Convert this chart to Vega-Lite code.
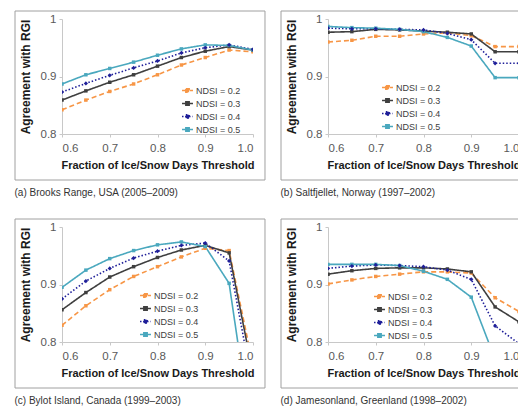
{
  "$schema": "https://vega.github.io/schema/vega-lite/v6.json",
  "padding": {"left": 14, "top": 10, "right": 0, "bottom": 0},
  "background": "white",
  "datasets": {
    "frame": [{"x0": 0.5016, "x1": 1.0251, "y0": 0.72, "y1": 1.0139}],
    "pts": [
      {"p":"a","n":"NDSI = 0.2","t":0.6,"v":0.842},{"p":"a","n":"NDSI = 0.2","t":0.65,"v":0.859},{"p":"a","n":"NDSI = 0.2","t":0.7,"v":0.874},{"p":"a","n":"NDSI = 0.2","t":0.75,"v":0.887},{"p":"a","n":"NDSI = 0.2","t":0.8,"v":0.903},{"p":"a","n":"NDSI = 0.2","t":0.85,"v":0.920},{"p":"a","n":"NDSI = 0.2","t":0.9,"v":0.933},{"p":"a","n":"NDSI = 0.2","t":0.95,"v":0.946},{"p":"a","n":"NDSI = 0.2","t":1.0,"v":0.943},
      {"p":"a","n":"NDSI = 0.3","t":0.6,"v":0.859},{"p":"a","n":"NDSI = 0.3","t":0.65,"v":0.875},{"p":"a","n":"NDSI = 0.3","t":0.7,"v":0.890},{"p":"a","n":"NDSI = 0.3","t":0.75,"v":0.903},{"p":"a","n":"NDSI = 0.3","t":0.8,"v":0.918},{"p":"a","n":"NDSI = 0.3","t":0.85,"v":0.933},{"p":"a","n":"NDSI = 0.3","t":0.9,"v":0.944},{"p":"a","n":"NDSI = 0.3","t":0.95,"v":0.952},{"p":"a","n":"NDSI = 0.3","t":1.0,"v":0.946},
      {"p":"a","n":"NDSI = 0.4","t":0.6,"v":0.873},{"p":"a","n":"NDSI = 0.4","t":0.65,"v":0.888},{"p":"a","n":"NDSI = 0.4","t":0.7,"v":0.902},{"p":"a","n":"NDSI = 0.4","t":0.75,"v":0.915},{"p":"a","n":"NDSI = 0.4","t":0.8,"v":0.927},{"p":"a","n":"NDSI = 0.4","t":0.85,"v":0.941},{"p":"a","n":"NDSI = 0.4","t":0.9,"v":0.950},{"p":"a","n":"NDSI = 0.4","t":0.95,"v":0.955},{"p":"a","n":"NDSI = 0.4","t":1.0,"v":0.947},
      {"p":"a","n":"NDSI = 0.5","t":0.6,"v":0.887},{"p":"a","n":"NDSI = 0.5","t":0.65,"v":0.903},{"p":"a","n":"NDSI = 0.5","t":0.7,"v":0.914},{"p":"a","n":"NDSI = 0.5","t":0.75,"v":0.925},{"p":"a","n":"NDSI = 0.5","t":0.8,"v":0.937},{"p":"a","n":"NDSI = 0.5","t":0.85,"v":0.948},{"p":"a","n":"NDSI = 0.5","t":0.9,"v":0.955},{"p":"a","n":"NDSI = 0.5","t":0.95,"v":0.954},{"p":"a","n":"NDSI = 0.5","t":1.0,"v":0.946},
      {"p":"b","n":"NDSI = 0.2","t":0.6,"v":0.960},{"p":"b","n":"NDSI = 0.2","t":0.65,"v":0.963},{"p":"b","n":"NDSI = 0.2","t":0.7,"v":0.970},{"p":"b","n":"NDSI = 0.2","t":0.75,"v":0.970},{"p":"b","n":"NDSI = 0.2","t":0.8,"v":0.974},{"p":"b","n":"NDSI = 0.2","t":0.85,"v":0.976},{"p":"b","n":"NDSI = 0.2","t":0.9,"v":0.971},{"p":"b","n":"NDSI = 0.2","t":0.95,"v":0.952},{"p":"b","n":"NDSI = 0.2","t":1.0,"v":0.952},
      {"p":"b","n":"NDSI = 0.3","t":0.6,"v":0.977},{"p":"b","n":"NDSI = 0.3","t":0.65,"v":0.978},{"p":"b","n":"NDSI = 0.3","t":0.7,"v":0.982},{"p":"b","n":"NDSI = 0.3","t":0.75,"v":0.981},{"p":"b","n":"NDSI = 0.3","t":0.8,"v":0.979},{"p":"b","n":"NDSI = 0.3","t":0.85,"v":0.977},{"p":"b","n":"NDSI = 0.3","t":0.9,"v":0.974},{"p":"b","n":"NDSI = 0.3","t":0.95,"v":0.943},{"p":"b","n":"NDSI = 0.3","t":1.0,"v":0.943},
      {"p":"b","n":"NDSI = 0.4","t":0.6,"v":0.984},{"p":"b","n":"NDSI = 0.4","t":0.65,"v":0.983},{"p":"b","n":"NDSI = 0.4","t":0.7,"v":0.983},{"p":"b","n":"NDSI = 0.4","t":0.75,"v":0.982},{"p":"b","n":"NDSI = 0.4","t":0.8,"v":0.981},{"p":"b","n":"NDSI = 0.4","t":0.85,"v":0.975},{"p":"b","n":"NDSI = 0.4","t":0.9,"v":0.964},{"p":"b","n":"NDSI = 0.4","t":0.95,"v":0.923},{"p":"b","n":"NDSI = 0.4","t":1.0,"v":0.923},
      {"p":"b","n":"NDSI = 0.5","t":0.6,"v":0.987},{"p":"b","n":"NDSI = 0.5","t":0.65,"v":0.985},{"p":"b","n":"NDSI = 0.5","t":0.7,"v":0.984},{"p":"b","n":"NDSI = 0.5","t":0.75,"v":0.982},{"p":"b","n":"NDSI = 0.5","t":0.8,"v":0.978},{"p":"b","n":"NDSI = 0.5","t":0.85,"v":0.968},{"p":"b","n":"NDSI = 0.5","t":0.9,"v":0.953},{"p":"b","n":"NDSI = 0.5","t":0.95,"v":0.898},{"p":"b","n":"NDSI = 0.5","t":1.0,"v":0.898},
      {"p":"c","n":"NDSI = 0.2","t":0.6,"v":0.829},{"p":"c","n":"NDSI = 0.2","t":0.65,"v":0.863},{"p":"c","n":"NDSI = 0.2","t":0.7,"v":0.891},{"p":"c","n":"NDSI = 0.2","t":0.75,"v":0.914},{"p":"c","n":"NDSI = 0.2","t":0.8,"v":0.931},{"p":"c","n":"NDSI = 0.2","t":0.85,"v":0.948},{"p":"c","n":"NDSI = 0.2","t":0.9,"v":0.963},{"p":"c","n":"NDSI = 0.2","t":0.95,"v":0.959},{"p":"c","n":"NDSI = 0.2","t":1.0,"v":0.76},
      {"p":"c","n":"NDSI = 0.3","t":0.6,"v":0.856},{"p":"c","n":"NDSI = 0.3","t":0.65,"v":0.886},{"p":"c","n":"NDSI = 0.3","t":0.7,"v":0.913},{"p":"c","n":"NDSI = 0.3","t":0.75,"v":0.931},{"p":"c","n":"NDSI = 0.3","t":0.8,"v":0.947},{"p":"c","n":"NDSI = 0.3","t":0.85,"v":0.960},{"p":"c","n":"NDSI = 0.3","t":0.9,"v":0.968},{"p":"c","n":"NDSI = 0.3","t":0.95,"v":0.955},{"p":"c","n":"NDSI = 0.3","t":1.0,"v":0.745},
      {"p":"c","n":"NDSI = 0.4","t":0.6,"v":0.875},{"p":"c","n":"NDSI = 0.4","t":0.65,"v":0.906},{"p":"c","n":"NDSI = 0.4","t":0.7,"v":0.928},{"p":"c","n":"NDSI = 0.4","t":0.75,"v":0.946},{"p":"c","n":"NDSI = 0.4","t":0.8,"v":0.958},{"p":"c","n":"NDSI = 0.4","t":0.85,"v":0.968},{"p":"c","n":"NDSI = 0.4","t":0.9,"v":0.972},{"p":"c","n":"NDSI = 0.4","t":0.95,"v":0.941},{"p":"c","n":"NDSI = 0.4","t":1.0,"v":0.72},
      {"p":"c","n":"NDSI = 0.5","t":0.6,"v":0.895},{"p":"c","n":"NDSI = 0.5","t":0.65,"v":0.925},{"p":"c","n":"NDSI = 0.5","t":0.7,"v":0.945},{"p":"c","n":"NDSI = 0.5","t":0.75,"v":0.959},{"p":"c","n":"NDSI = 0.5","t":0.8,"v":0.969},{"p":"c","n":"NDSI = 0.5","t":0.85,"v":0.974},{"p":"c","n":"NDSI = 0.5","t":0.9,"v":0.966},{"p":"c","n":"NDSI = 0.5","t":0.95,"v":0.902},{"p":"c","n":"NDSI = 0.5","t":1.0,"v":0.62},
      {"p":"d","n":"NDSI = 0.2","t":0.6,"v":0.901},{"p":"d","n":"NDSI = 0.2","t":0.65,"v":0.908},{"p":"d","n":"NDSI = 0.2","t":0.7,"v":0.914},{"p":"d","n":"NDSI = 0.2","t":0.75,"v":0.918},{"p":"d","n":"NDSI = 0.2","t":0.8,"v":0.922},{"p":"d","n":"NDSI = 0.2","t":0.85,"v":0.922},{"p":"d","n":"NDSI = 0.2","t":0.9,"v":0.920},{"p":"d","n":"NDSI = 0.2","t":0.95,"v":0.877},{"p":"d","n":"NDSI = 0.2","t":1.0,"v":0.853},
      {"p":"d","n":"NDSI = 0.3","t":0.6,"v":0.918},{"p":"d","n":"NDSI = 0.3","t":0.65,"v":0.924},{"p":"d","n":"NDSI = 0.3","t":0.7,"v":0.928},{"p":"d","n":"NDSI = 0.3","t":0.75,"v":0.929},{"p":"d","n":"NDSI = 0.3","t":0.8,"v":0.929},{"p":"d","n":"NDSI = 0.3","t":0.85,"v":0.927},{"p":"d","n":"NDSI = 0.3","t":0.9,"v":0.922},{"p":"d","n":"NDSI = 0.3","t":0.95,"v":0.861},{"p":"d","n":"NDSI = 0.3","t":1.0,"v":0.835},
      {"p":"d","n":"NDSI = 0.4","t":0.6,"v":0.928},{"p":"d","n":"NDSI = 0.4","t":0.65,"v":0.932},{"p":"d","n":"NDSI = 0.4","t":0.7,"v":0.934},{"p":"d","n":"NDSI = 0.4","t":0.75,"v":0.933},{"p":"d","n":"NDSI = 0.4","t":0.8,"v":0.931},{"p":"d","n":"NDSI = 0.4","t":0.85,"v":0.925},{"p":"d","n":"NDSI = 0.4","t":0.9,"v":0.909},{"p":"d","n":"NDSI = 0.4","t":0.95,"v":0.828},{"p":"d","n":"NDSI = 0.4","t":1.0,"v":0.797},
      {"p":"d","n":"NDSI = 0.5","t":0.6,"v":0.935},{"p":"d","n":"NDSI = 0.5","t":0.65,"v":0.935},{"p":"d","n":"NDSI = 0.5","t":0.7,"v":0.935},{"p":"d","n":"NDSI = 0.5","t":0.75,"v":0.933},{"p":"d","n":"NDSI = 0.5","t":0.8,"v":0.923},{"p":"d","n":"NDSI = 0.5","t":0.85,"v":0.909},{"p":"d","n":"NDSI = 0.5","t":0.9,"v":0.878},{"p":"d","n":"NDSI = 0.5","t":0.95,"v":0.77},{"p":"d","n":"NDSI = 0.5","t":1.0,"v":0.70}
    ]
  },
  "vconcat": [
    {
      "hconcat": [
        {
          "width": 191, "height": 115,
          "title": {"text": "(a) Brooks Range, USA (2005–2009)"},
          "layer": [
            {"data": {"name": "frame"}, "mark": {"type": "rect", "fill": null, "stroke": "#a0a0a0", "strokeWidth": 1}, "encoding": {"x": {"field": "x0", "type": "quantitative", "title": "Fraction of Ice/Snow Days Threshold", "scale": {"domain": [0.6, 1.0], "nice": false, "zero": false}}, "x2": {"field": "x1"}, "y": {"field": "y0", "type": "quantitative", "title": "Agreement with RGI", "scale": {"domain": [0.8, 1.0], "nice": false, "zero": false}}, "y2": {"field": "y1"}}},
            {"data": {"name": "pts"}, "transform": [{"filter": "datum.p == 'a'"}], "mark": {"type": "line", "clip": true, "strokeWidth": 1.6},
             "encoding": {"x": {"field": "t", "type": "quantitative", "title": "Fraction of Ice/Snow Days Threshold", "scale": {"domain": [0.6, 1.0], "nice": false, "zero": false}, "axis": {"values": [0.6, 0.7, 0.8, 0.9, 1.0], "format": ".1f"}}, "y": {"field": "v", "type": "quantitative", "title": "Agreement with RGI", "scale": {"domain": [0.8, 1.0], "nice": false, "zero": false}, "axis": {"values": [0.8, 0.9, 1.0], "format": "~g"}}, "color": {"field": "n", "type": "nominal", "scale": {"domain": ["NDSI = 0.2", "NDSI = 0.3", "NDSI = 0.4", "NDSI = 0.5"]}, "legend": {"legendX": 119, "legendY": 65}}, "strokeDash": {"field": "n", "type": "nominal", "scale": {"domain": ["NDSI = 0.2", "NDSI = 0.3", "NDSI = 0.4", "NDSI = 0.5"], "range": [[5, 3], [1, 0], [1.5, 2], [1, 0]]}, "legend": {"legendX": 119, "legendY": 65}}}},
            {"data": {"name": "pts"}, "transform": [{"filter": "datum.p == 'a' && datum.n != 'NDSI = 0.4'"}], "mark": {"type": "point", "shape": "square", "clip": true, "filled": true, "size": 12, "opacity": 1},
             "encoding": {"x": {"field": "t", "type": "quantitative", "title": "Fraction of Ice/Snow Days Threshold"}, "y": {"field": "v", "type": "quantitative", "title": "Agreement with RGI"}, "color": {"field": "n", "type": "nominal", "scale": {"domain": ["NDSI = 0.2", "NDSI = 0.3", "NDSI = 0.4", "NDSI = 0.5"]}, "legend": {"legendX": 119, "legendY": 65}}}},
            {"data": {"name": "pts"}, "transform": [{"filter": "datum.p == 'a' && datum.n == 'NDSI = 0.4'"}], "mark": {"type": "point", "shape": "diamond", "clip": true, "filled": true, "size": 18, "opacity": 1},
             "encoding": {"x": {"field": "t", "type": "quantitative", "title": "Fraction of Ice/Snow Days Threshold"}, "y": {"field": "v", "type": "quantitative", "title": "Agreement with RGI"}, "color": {"field": "n", "type": "nominal", "scale": {"domain": ["NDSI = 0.2", "NDSI = 0.3", "NDSI = 0.4", "NDSI = 0.5"]}, "legend": {"legendX": 119, "legendY": 65}}}}
          ]
        },
        {
          "width": 191, "height": 115,
          "title": {"text": "(b) Saltfjellet, Norway (1997–2002)"},
          "layer": [
            {"data": {"name": "frame"}, "mark": {"type": "rect", "fill": null, "stroke": "#a0a0a0", "strokeWidth": 1}, "encoding": {"x": {"field": "x0", "type": "quantitative", "title": "Fraction of Ice/Snow Days Threshold", "scale": {"domain": [0.6, 1.0], "nice": false, "zero": false}}, "x2": {"field": "x1"}, "y": {"field": "y0", "type": "quantitative", "title": "Agreement with RGI", "scale": {"domain": [0.8, 1.0], "nice": false, "zero": false}}, "y2": {"field": "y1"}}},
            {"data": {"name": "pts"}, "transform": [{"filter": "datum.p == 'b'"}], "mark": {"type": "line", "clip": true, "strokeWidth": 1.6},
             "encoding": {"x": {"field": "t", "type": "quantitative", "title": "Fraction of Ice/Snow Days Threshold", "scale": {"domain": [0.6, 1.0], "nice": false, "zero": false}, "axis": {"values": [0.6, 0.7, 0.8, 0.9, 1.0], "format": ".1f"}}, "y": {"field": "v", "type": "quantitative", "title": "Agreement with RGI", "scale": {"domain": [0.8, 1.0], "nice": false, "zero": false}, "axis": {"values": [0.8, 0.9, 1.0], "format": "~g"}}, "color": {"field": "n", "type": "nominal", "scale": {"domain": ["NDSI = 0.2", "NDSI = 0.3", "NDSI = 0.4", "NDSI = 0.5"]}, "legend": {"legendX": 53, "legendY": 62}}, "strokeDash": {"field": "n", "type": "nominal", "scale": {"domain": ["NDSI = 0.2", "NDSI = 0.3", "NDSI = 0.4", "NDSI = 0.5"], "range": [[5, 3], [1, 0], [1.5, 2], [1, 0]]}, "legend": {"legendX": 53, "legendY": 62}}}},
            {"data": {"name": "pts"}, "transform": [{"filter": "datum.p == 'b' && datum.n != 'NDSI = 0.4'"}], "mark": {"type": "point", "shape": "square", "clip": true, "filled": true, "size": 12, "opacity": 1},
             "encoding": {"x": {"field": "t", "type": "quantitative", "title": "Fraction of Ice/Snow Days Threshold"}, "y": {"field": "v", "type": "quantitative", "title": "Agreement with RGI"}, "color": {"field": "n", "type": "nominal", "scale": {"domain": ["NDSI = 0.2", "NDSI = 0.3", "NDSI = 0.4", "NDSI = 0.5"]}, "legend": {"legendX": 53, "legendY": 62}}}},
            {"data": {"name": "pts"}, "transform": [{"filter": "datum.p == 'b' && datum.n == 'NDSI = 0.4'"}], "mark": {"type": "point", "shape": "diamond", "clip": true, "filled": true, "size": 18, "opacity": 1},
             "encoding": {"x": {"field": "t", "type": "quantitative", "title": "Fraction of Ice/Snow Days Threshold"}, "y": {"field": "v", "type": "quantitative", "title": "Agreement with RGI"}, "color": {"field": "n", "type": "nominal", "scale": {"domain": ["NDSI = 0.2", "NDSI = 0.3", "NDSI = 0.4", "NDSI = 0.5"]}, "legend": {"legendX": 53, "legendY": 62}}}}
          ]
        }
      ],
      "spacing": 14,
      "resolve": {"scale": {"color": "independent", "strokeDash": "independent"}, "legend": {"color": "independent", "strokeDash": "independent"}}
    },
    {
      "hconcat": [
        {
          "width": 191, "height": 115,
          "title": {"text": "(c) Bylot Island, Canada (1999–2003)"},
          "layer": [
            {"data": {"name": "frame"}, "mark": {"type": "rect", "fill": null, "stroke": "#a0a0a0", "strokeWidth": 1}, "encoding": {"x": {"field": "x0", "type": "quantitative", "title": "Fraction of Ice/Snow Days Threshold", "scale": {"domain": [0.6, 1.0], "nice": false, "zero": false}}, "x2": {"field": "x1"}, "y": {"field": "y0", "type": "quantitative", "title": "Agreement with RGI", "scale": {"domain": [0.8, 1.0], "nice": false, "zero": false}}, "y2": {"field": "y1"}}},
            {"data": {"name": "pts"}, "transform": [{"filter": "datum.p == 'c'"}], "mark": {"type": "line", "clip": true, "strokeWidth": 1.6},
             "encoding": {"x": {"field": "t", "type": "quantitative", "title": "Fraction of Ice/Snow Days Threshold", "scale": {"domain": [0.6, 1.0], "nice": false, "zero": false}, "axis": {"values": [0.6, 0.7, 0.8, 0.9, 1.0], "format": ".1f"}}, "y": {"field": "v", "type": "quantitative", "title": "Agreement with RGI", "scale": {"domain": [0.8, 1.0], "nice": false, "zero": false}, "axis": {"values": [0.8, 0.9, 1.0], "format": "~g"}}, "color": {"field": "n", "type": "nominal", "scale": {"domain": ["NDSI = 0.2", "NDSI = 0.3", "NDSI = 0.4", "NDSI = 0.5"]}, "legend": {"legendX": 77, "legendY": 62}}, "strokeDash": {"field": "n", "type": "nominal", "scale": {"domain": ["NDSI = 0.2", "NDSI = 0.3", "NDSI = 0.4", "NDSI = 0.5"], "range": [[5, 3], [1, 0], [1.5, 2], [1, 0]]}, "legend": {"legendX": 77, "legendY": 62}}}},
            {"data": {"name": "pts"}, "transform": [{"filter": "datum.p == 'c' && datum.n != 'NDSI = 0.4'"}], "mark": {"type": "point", "shape": "square", "clip": true, "filled": true, "size": 12, "opacity": 1},
             "encoding": {"x": {"field": "t", "type": "quantitative", "title": "Fraction of Ice/Snow Days Threshold"}, "y": {"field": "v", "type": "quantitative", "title": "Agreement with RGI"}, "color": {"field": "n", "type": "nominal", "scale": {"domain": ["NDSI = 0.2", "NDSI = 0.3", "NDSI = 0.4", "NDSI = 0.5"]}, "legend": {"legendX": 77, "legendY": 62}}}},
            {"data": {"name": "pts"}, "transform": [{"filter": "datum.p == 'c' && datum.n == 'NDSI = 0.4'"}], "mark": {"type": "point", "shape": "diamond", "clip": true, "filled": true, "size": 18, "opacity": 1},
             "encoding": {"x": {"field": "t", "type": "quantitative", "title": "Fraction of Ice/Snow Days Threshold"}, "y": {"field": "v", "type": "quantitative", "title": "Agreement with RGI"}, "color": {"field": "n", "type": "nominal", "scale": {"domain": ["NDSI = 0.2", "NDSI = 0.3", "NDSI = 0.4", "NDSI = 0.5"]}, "legend": {"legendX": 77, "legendY": 62}}}}
          ]
        },
        {
          "width": 191, "height": 115,
          "title": {"text": "(d) Jamesonland, Greenland (1998–2002)"},
          "layer": [
            {"data": {"name": "frame"}, "mark": {"type": "rect", "fill": null, "stroke": "#a0a0a0", "strokeWidth": 1}, "encoding": {"x": {"field": "x0", "type": "quantitative", "title": "Fraction of Ice/Snow Days Threshold", "scale": {"domain": [0.6, 1.0], "nice": false, "zero": false}}, "x2": {"field": "x1"}, "y": {"field": "y0", "type": "quantitative", "title": "Agreement with RGI", "scale": {"domain": [0.8, 1.0], "nice": false, "zero": false}}, "y2": {"field": "y1"}}},
            {"data": {"name": "pts"}, "transform": [{"filter": "datum.p == 'd'"}], "mark": {"type": "line", "clip": true, "strokeWidth": 1.6},
             "encoding": {"x": {"field": "t", "type": "quantitative", "title": "Fraction of Ice/Snow Days Threshold", "scale": {"domain": [0.6, 1.0], "nice": false, "zero": false}, "axis": {"values": [0.6, 0.7, 0.8, 0.9, 1.0], "format": ".1f"}}, "y": {"field": "v", "type": "quantitative", "title": "Agreement with RGI", "scale": {"domain": [0.8, 1.0], "nice": false, "zero": false}, "axis": {"values": [0.8, 0.9, 1.0], "format": "~g"}}, "color": {"field": "n", "type": "nominal", "scale": {"domain": ["NDSI = 0.2", "NDSI = 0.3", "NDSI = 0.4", "NDSI = 0.5"]}, "legend": {"legendX": 45, "legendY": 63}}, "strokeDash": {"field": "n", "type": "nominal", "scale": {"domain": ["NDSI = 0.2", "NDSI = 0.3", "NDSI = 0.4", "NDSI = 0.5"], "range": [[5, 3], [1, 0], [1.5, 2], [1, 0]]}, "legend": {"legendX": 45, "legendY": 63}}}},
            {"data": {"name": "pts"}, "transform": [{"filter": "datum.p == 'd' && datum.n != 'NDSI = 0.4'"}], "mark": {"type": "point", "shape": "square", "clip": true, "filled": true, "size": 12, "opacity": 1},
             "encoding": {"x": {"field": "t", "type": "quantitative", "title": "Fraction of Ice/Snow Days Threshold"}, "y": {"field": "v", "type": "quantitative", "title": "Agreement with RGI"}, "color": {"field": "n", "type": "nominal", "scale": {"domain": ["NDSI = 0.2", "NDSI = 0.3", "NDSI = 0.4", "NDSI = 0.5"]}, "legend": {"legendX": 45, "legendY": 63}}}},
            {"data": {"name": "pts"}, "transform": [{"filter": "datum.p == 'd' && datum.n == 'NDSI = 0.4'"}], "mark": {"type": "point", "shape": "diamond", "clip": true, "filled": true, "size": 18, "opacity": 1},
             "encoding": {"x": {"field": "t", "type": "quantitative", "title": "Fraction of Ice/Snow Days Threshold"}, "y": {"field": "v", "type": "quantitative", "title": "Agreement with RGI"}, "color": {"field": "n", "type": "nominal", "scale": {"domain": ["NDSI = 0.2", "NDSI = 0.3", "NDSI = 0.4", "NDSI = 0.5"]}, "legend": {"legendX": 45, "legendY": 63}}}}
          ]
        }
      ],
      "spacing": 14,
      "resolve": {"scale": {"color": "independent", "strokeDash": "independent"}, "legend": {"color": "independent", "strokeDash": "independent"}}
    }
  ],
  "spacing": 20,
  "resolve": {"scale": {"color": "independent", "strokeDash": "independent"}, "legend": {"color": "independent", "strokeDash": "independent"}},
  "config": {
    "font": "Liberation Sans",
    "view": {"stroke": null},
    "range": {
      "category": ["#F79646", "#3F3F3F", "#1F1F99", "#4AA8BE"]
    },
    "axis": {"grid": false, "domainColor": "#c8c8c8", "tickColor": "#c8c8c8", "tickSize": 3, "labelColor": "#595959", "labelFontSize": 11.5, "titleFontSize": 11, "titleFontWeight": "bold", "titleColor": "#1a1a1a"},
    "axisX": {"labelPadding": 5, "titlePadding": 6},
    "axisY": {"titleFontSize": 12, "titlePadding": 8, "labelPadding": 3},
    "legend": {"orient": "none", "title": null, "labelFontSize": 9, "labelColor": "#404040", "symbolSize": 120, "rowPadding": 1, "labelOffset": 2, "symbolType": "M-1,0H1M-0.3,-0.3H0.3V0.3H-0.3Z", "symbolStrokeWidth": 1.6},
    "title": {"orient": "bottom", "anchor": "start", "fontSize": 10, "fontWeight": "normal", "color": "#333333", "offset": 7, "frame": "bounds"}
  }
}
